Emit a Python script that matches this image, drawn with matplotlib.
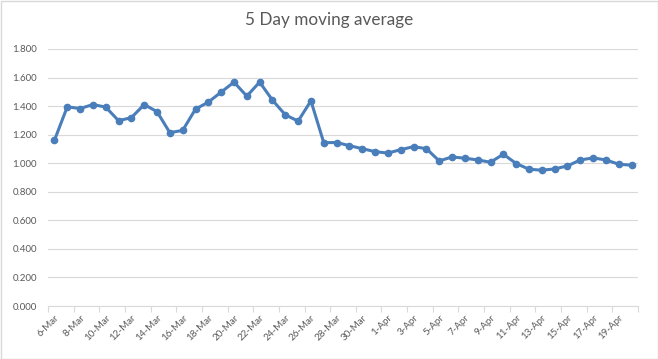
import matplotlib
matplotlib.use("Agg")
import matplotlib.pyplot as plt
from matplotlib.patches import Rectangle

plt.rcParams['font.family'] = ['Lato', 'DejaVu Sans']

dates = ['6-Mar', '7-Mar', '8-Mar', '9-Mar', '10-Mar', '11-Mar', '12-Mar', '13-Mar', '14-Mar',
         '15-Mar', '16-Mar', '17-Mar', '18-Mar', '19-Mar', '20-Mar', '21-Mar', '22-Mar', '23-Mar',
         '24-Mar', '25-Mar', '26-Mar', '27-Mar', '28-Mar', '29-Mar', '30-Mar', '31-Mar',
         '1-Apr', '2-Apr', '3-Apr', '4-Apr', '5-Apr', '6-Apr', '7-Apr', '8-Apr', '9-Apr', '10-Apr',
         '11-Apr', '12-Apr', '13-Apr', '14-Apr', '15-Apr', '16-Apr', '17-Apr', '18-Apr', '19-Apr',
         '20-Apr']
values = [1.160, 1.395, 1.383, 1.411, 1.393, 1.298, 1.319, 1.411, 1.361, 1.214,
          1.230, 1.379, 1.428, 1.498, 1.568, 1.470, 1.568, 1.442, 1.339, 1.295,
          1.437, 1.144, 1.145, 1.123, 1.102, 1.081, 1.071, 1.095, 1.116, 1.102,
          1.016, 1.044, 1.035, 1.023, 1.007, 1.063, 0.998, 0.958, 0.951, 0.960,
          0.981, 1.023, 1.037, 1.023, 0.993, 0.986]
title = '5 Day moving average'
yticks = [0.0, 0.2, 0.4, 0.6, 0.8, 1.0, 1.2, 1.4, 1.6, 1.8]

W, H = 658, 359
fig = plt.figure(figsize=(W / 100, H / 100), dpi=100)
fig.patch.set_facecolor('white')
fig.patches.append(Rectangle((0.5 / W, 0.5 / H), 1 - 1 / W, 1 - 1 / H, transform=fig.transFigure,
                             fill=False, edgecolor='#D9D9D9', linewidth=1))

left, right, top, bottom = 48, 638, 49, 306
ax = fig.add_axes([left / W, (H - bottom) / H, (right - left) / W, (bottom - top) / H])

x = list(range(len(dates)))
ax.plot(x, values, color='#4A7EBB', linewidth=2.2, marker='o', markersize=4.5,
        markerfacecolor='#4A7EBB', markeredgecolor='#4A7EBB', zorder=3)

ax.set_xlim(-0.5, len(dates) - 0.5)
ax.set_ylim(0, 1.8)
ax.set_yticks(yticks)
ax.set_yticklabels([f'{v:.3f}' for v in yticks])
ax.grid(axis='y', color='#D9D9D9', linewidth=0.8)
ax.set_axisbelow(True)

for s in ['top', 'right', 'left']:
    ax.spines[s].set_visible(False)
ax.spines['bottom'].set_color('#D9D9D9')
ax.spines['bottom'].set_linewidth(0.8)

ax.tick_params(axis='y', length=0, labelsize=7, labelcolor='#595959', pad=8)

# tick marks at category boundaries (every 2 categories)
ax.set_xticks([i - 0.5 for i in range(0, len(dates) + 1, 2)])
ax.set_xticklabels([])
ax.tick_params(axis='x', which='major', length=4, color='#D9D9D9', width=0.8, direction='out')
ax.set_xticks(list(range(0, len(dates), 2)), minor=True)
ax.set_xticklabels([dates[i] for i in range(0, len(dates), 2)], minor=True,
                   rotation=45, ha='right', va='top', rotation_mode='anchor')
ax.tick_params(axis='x', which='minor', length=0, labelsize=7, labelcolor='#595959', pad=5)

fig.text(0.5, 1 - 20 / H, title, ha='center', va='center', fontsize=12.3, color='#595959')

fig.savefig('out.png', dpi=100)
